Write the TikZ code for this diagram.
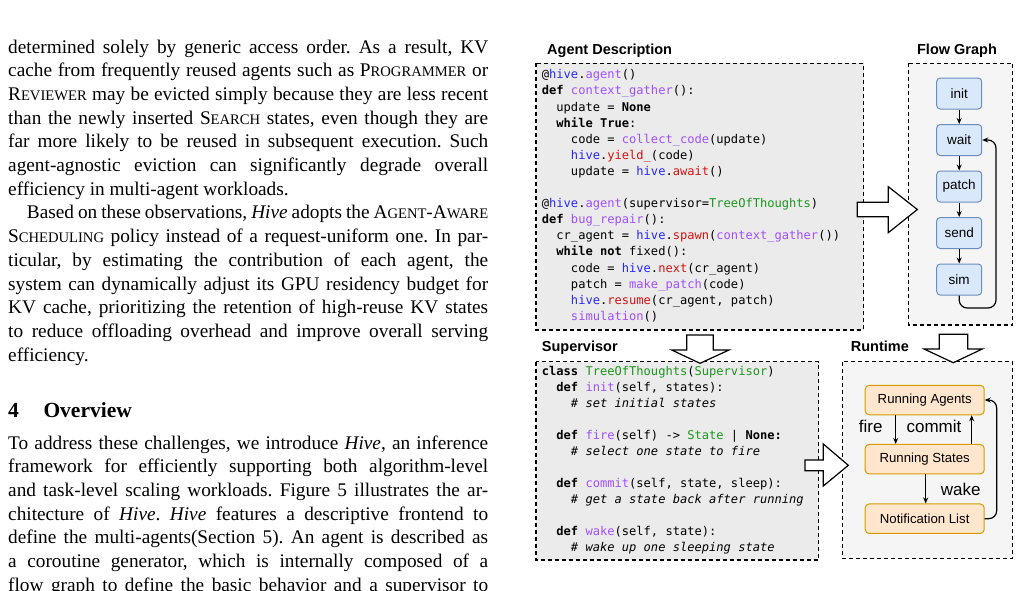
\documentclass[tikz,border=0pt]{standalone}
\usepackage{fontspec}
\setmainfont{Liberation Serif}
\newfontfamily\hsans{Liberation Sans}
\newfontfamily\hmono{DejaVu Sans Mono}
\usetikzlibrary{arrows.meta}
\definecolor{hb}{RGB}{40,40,255}
\definecolor{hp}{RGB}{160,80,255}
\definecolor{hr}{RGB}{210,20,20}
\definecolor{hg}{RGB}{30,150,30}
\definecolor{boxA}{HTML}{EBEBEB}
\definecolor{boxB}{HTML}{F5F5F5}
\definecolor{fgfill}{HTML}{DAE8FC}
\definecolor{fgdraw}{HTML}{6C8EBF}
\definecolor{rtfill}{HTML}{FFE6CC}
\definecolor{rtdraw}{HTML}{D79B00}
\newcommand\tb{\phantom{xx}}
\newcommand\fsc[2]{#1{\fontsize{14.6pt}{14.6pt}\selectfont #2}}
\frenchspacing
\tikzset{
  body/.style={inner sep=0, anchor=base west, font=\fontsize{19.3pt}{23.7pt}\selectfont},
  code/.style={inner sep=0, anchor=base west, font=\hmono\fontsize{12.08pt}{16pt}\selectfont},
  title/.style={inner sep=0, anchor=base west, font=\hsans\bfseries\fontsize{14.5pt}{16pt}\selectfont},
  dbox/.style={draw=black, line width=1.2pt, dash pattern=on 4pt off 3pt},
  fgnode/.style={draw=fgdraw, fill=fgfill, rounded corners=3.5pt, line width=1pt, minimum width=45pt, minimum height=31pt, inner sep=0, font=\hsans\fontsize{13.5pt}{15pt}\selectfont},
  rtnode/.style={draw=rtdraw, fill=rtfill, rounded corners=4pt, line width=1pt, minimum width=119pt, minimum height=29.5pt, inner sep=0, font=\hsans\fontsize{13.2pt}{15pt}\selectfont},
  arr/.style={line width=1.2pt, -{Stealth[length=6pt,width=5pt]}},
  lbl/.style={inner sep=0, font=\hsans\fontsize{17pt}{19pt}\selectfont},
  barrow/.style={draw=black, fill=white, line width=1.2pt, line join=miter},
}
\begin{document}
\begin{tikzpicture}[x=1pt,y=-1pt]
\useasboundingbox (0,0) rectangle (1020,590);
\clip (0,0) rectangle (1020,590);
\fill[white] (0,0) rectangle (1020,590);

% ---------------- left column text ----------------
\foreach \bl [count=\i from 0] in {
 {determined solely by generic access order. As a result, KV},
 {cache from frequently reused agents such as \fsc{P}{ROGRAMMER} or},
 {\fsc{R}{EVIEWER} may be evicted simply because they are less recent},
 {than the newly inserted \fsc{S}{EARCH} states, even though they are},
 {far more likely to be reused in subsequent execution. Such},
 {agent-agnostic eviction can significantly degrade overall}}
 \node[body] (pa\i) at ({8},{53+23.7*\i}) {\makebox[480pt][s]{\bl}};
\node[body] (pa6) at (8,195.2) {efficiency in multi-agent workloads.};
\foreach \bl [count=\i from 7] in {
 {\hspace*{18.7pt}Based on these observations, \textit{Hive} adopts the \fsc{A}{GENT}-\fsc{A}{WARE}},
 {\fsc{S}{CHEDULING} policy instead of a request-uniform one. In par-},
 {ticular, by estimating the contribution of each agent, the},
 {system can dynamically adjust its GPU residency budget for},
 {KV cache, prioritizing the retention of high-reuse KV states},
 {to reduce offloading overhead and improve overall serving}}
 \node[body] (pb\i) at ({8},{53+23.7*\i}) {\makebox[480pt][s]{\bl}};
\node[body] (pb13) at (8,361.1) {efficiency.};
\node[body, font=\bfseries\fontsize{21.5pt}{24pt}\selectfont] (secnum) at (8,417.3) {4};
\node[body, font=\bfseries\fontsize{21.5pt}{24pt}\selectfont] (sectitle) at (43.3,417.3) {Overview};
\foreach \bl [count=\i from 0] in {
 {To address these challenges, we introduce \textit{Hive}, an inference},
 {framework for efficiently supporting both algorithm-level},
 {and task-level scaling workloads. Figure 5 illustrates the ar-},
 {chitecture of \textit{Hive}. \textit{Hive} features a descriptive frontend to},
 {define the multi-agents(Section 5). An agent is described as},
 {a coroutine generator, which is internally composed of a},
 {flow graph to define the basic behavior and a supervisor to}}
 \node[body] (pc\i) at ({8},{449.3+23.65*\i}) {\makebox[480pt][s]{\bl}};

% ---------------- boxes ----------------
\draw[dbox, fill=boxA] (536,63.3) rectangle (863.5,330);
\draw[dbox, fill=boxB] (908.3,63.3) rectangle (1012.7,325);
\draw[dbox, fill=boxA] (536,361.7) rectangle (818.7,560);
\draw[dbox, fill=boxB] (842.7,361.7) rectangle (1012.7,558.5);

\node[title] (tagent) at (547,54) {Agent Description};
\node[title, anchor=base] (tflow) at (957,54) {Flow Graph};
\node[title] (tsup) at (541.7,351.7) {Supervisor};
\node[title] (trt) at (850.7,351.7) {Runtime};

% ---------------- agent code ----------------
\foreach \cl [count=\i from 0] in {
 {@\textcolor{hb}{hive}.\textcolor{hp}{agent}()},
 {\textbf{def} \textcolor{hp}{context\_gather}():},
 {\tb update = \textbf{None}},
 {\tb \textbf{while True}:},
 {\tb\tb code = \textcolor{hp}{collect\_code}(update)},
 {\tb\tb \textcolor{hb}{hive}.\textcolor{hr}{yield\_}(code)},
 {\tb\tb update = \textcolor{hb}{hive}.\textcolor{hr}{await}()},
 {},
 {@\textcolor{hb}{hive}.\textcolor{hp}{agent}(supervisor=\textcolor{hg}{TreeOfThoughts})},
 {\textbf{def} \textcolor{hp}{bug\_repair}():},
 {\tb cr\_agent = \textcolor{hb}{hive}.\textcolor{hr}{spawn}(\textcolor{hp}{context\_gather}())},
 {\tb \textbf{while not} fixed():},
 {\tb\tb code = \textcolor{hb}{hive}.\textcolor{hr}{next}(cr\_agent)},
 {\tb\tb patch = \textcolor{hp}{make\_patch}(code)},
 {\tb\tb \textcolor{hb}{hive}.\textcolor{hr}{resume}(cr\_agent, patch)},
 {\tb\tb \textcolor{hp}{simulation}()}}
 \node[code] (ac\i) at ({541.7},{78.8+16.1*\i}) {\cl};

% ---------------- supervisor code ----------------
\foreach \cl [count=\i from 0] in {
 {\textbf{class} \textcolor{hg}{TreeOfThoughts}(\textcolor{hg}{Supervisor})},
 {\tb \textbf{def} \textcolor{hp}{init}(self, states):},
 {\tb\tb \textit{\# set initial states}},
 {},
 {\tb \textbf{def} \textcolor{hp}{fire}(self) -> \textcolor{hg}{State} | \textbf{None:}},
 {\tb\tb \textit{\# select one state to fire}},
 {},
 {\tb \textbf{def} \textcolor{hp}{commit}(self, state, sleep):},
 {\tb\tb \textit{\# get a state back after running}},
 {},
 {\tb \textbf{def} \textcolor{hp}{wake}(self, state):},
 {\tb\tb \textit{\# wake up one sleeping state}}}
 \node[code] (sc\i) at ({541.7},{375.5+16.03*\i}) {\cl};

% ---------------- flow graph ----------------
\node[fgnode] (init) at (959.2,93.5) {init};
\node[fgnode] (wait) at (959.2,140) {wait};
\node[fgnode] (patch) at (959.2,186.5) {patch};
\node[fgnode] (send) at (959.2,233) {send};
\node[fgnode] (sim) at (959.2,279.5) {sim};
\draw[arr] (init) -- (wait);
\draw[arr] (wait) -- (patch);
\draw[arr] (patch) -- (send);
\draw[arr] (send) -- (sim);
\coordinate (fgloop) at (996,308);
\draw[arr, rounded corners=8pt] (sim.south) |- (fgloop) |- (wait.east);

% ---------------- runtime ----------------
\node[rtnode] (ra) at (924.7,400) {Running Agents};
\node[rtnode] (rs) at (924.7,459.2) {Running States};
\node[rtnode] (nl) at (924.7,518.7) {Notification List};
\draw[arr] ([xshift=-29pt]ra.south) -- ([xshift=-29pt]rs.north);
\draw[arr] ([xshift=47pt]rs.north) -- ([xshift=47pt]ra.south);
\draw[arr] ([xshift=1pt]rs.south) -- ([xshift=1pt]nl.north);
\coordinate (rtloop) at (996.7,459);
\draw[arr, rounded corners=8pt] (nl.east) -| (rtloop) |- (ra.east);
\node[lbl] (lfire) at (870.7,426.7) {fire};
\node[lbl] (lcommit) at (934,426.7) {commit};
\node[lbl] (lwake) at (960.7,489.3) {wake};

% ---------------- block arrows ----------------
\draw[barrow] (857.3,202.3) -- (888.3,202.3) -- (888.3,186.7) -- (917.3,209.5) -- (888.3,232.7) -- (888.3,216.7) -- (857.3,216.7) -- cycle;
\draw[barrow] (686.7,335) -- (713.3,335) -- (713.3,350) -- (729,350) -- (700,363.3) -- (671.7,350) -- (686.7,350) -- cycle;
\draw[barrow] (939.3,334.3) -- (967.7,334.3) -- (967.7,349) -- (982.3,349) -- (953.3,362.7) -- (924,349) -- (939.3,349) -- cycle;
\draw[barrow] (805,460) -- (823.3,460) -- (823.3,444) -- (848.3,465.3) -- (823.3,486) -- (823.3,470.7) -- (805,470.7) -- cycle;
\end{tikzpicture}
\end{document}
